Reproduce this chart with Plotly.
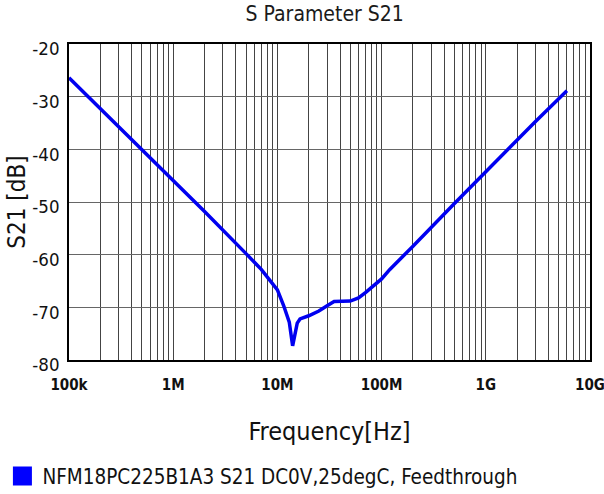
import plotly.graph_objects as go

freq_hz = [1e5, 2e5, 5e5, 1e6, 2e6, 5e6, 7e6, 1e7, 1.15e7, 1.3e7, 1.4e7, 1.55e7, 1.65e7,
           2e7, 2.5e7, 3e7, 3.5e7, 5e7, 6e7, 7e7, 1e8, 1.2e8, 1.5e8, 2e8, 5e8, 1e9, 2e9, 3e9, 6e9]
s21_db = [-26.4, -32.3, -40.0, -45.8, -51.8, -59.8, -62.8, -66.7, -69.7, -72.8, -77.3, -73.0, -72.2,
          -71.6, -70.7, -69.7, -68.9, -68.8, -68.2, -67.2, -64.6, -62.8, -60.8, -58.4, -50.3, -44.2, -38.2, -34.7, -28.9]

decades = [1e5, 1e6, 1e7, 1e8, 1e9, 1e10]
decade_labels = ["100k", "1M", "10M", "100M", "1G", "10G"]
y_ticks = [-20, -30, -40, -50, -60, -70, -80]

legend_name = "NFM18PC225B1A3 S21 DC0V,25degC, Feedthrough"

tickvals = []
ticktext = []
for i, d in enumerate(decades):
    tickvals.append(d)
    ticktext.append(decade_labels[i])
    if i < len(decades) - 1:
        for m in range(2, 10):
            tickvals.append(d * m)
            ticktext.append("")

font_c = "DejaVu Sans Condensed, DejaVu Sans, Liberation Sans"

fig = go.Figure()
fig.add_trace(go.Scatter(x=freq_hz, y=s21_db, mode="lines",
                         line=dict(color="#0000f0", width=3.5), showlegend=False))
fig.add_trace(go.Scatter(x=[None], y=[None], mode="markers", name=legend_name,
                         marker=dict(symbol="square", size=18, color="#0000ff",
                                     line=dict(color="#0000ff", width=3))))

fig.update_layout(
    template="none",
    width=604, height=494,
    paper_bgcolor="white", plot_bgcolor="white",
    margin=dict(l=69, r=14, t=44, b=134, autoexpand=False),
    title=dict(text="S Parameter S21", x=0.5376, xanchor="center", y=0.972, yanchor="middle",
               font=dict(family=font_c, size=21, color="#1a1a1a")),
    xaxis=dict(type="log", range=[5, 10.0001], tickvals=tickvals, ticktext=ticktext,
               showgrid=True, gridcolor="#444", gridwidth=1,
               showline=True, linecolor="#000", linewidth=1.6, mirror=True,
               ticks="", ticklabelstandoff=10, ticklabeloverflow="allow", automargin=False,
               tickfont=dict(family=font_c, size=15, color="#111", weight="bold"),
               title=dict(text="Frequency[Hz]", font=dict(family=font_c, size=25, color="#111"),
                          standoff=30),
               zeroline=False),
    yaxis=dict(range=[-80, -20], tickvals=y_ticks, ticktext=[str(v) for v in y_ticks],
               showgrid=True, gridcolor="#666", gridwidth=1,
               showline=True, linecolor="#000", linewidth=1.6, mirror=True,
               ticks="", ticklabelstandoff=4, ticklabelshift=5, automargin=False,
               tickfont=dict(family=font_c, size=18.5, color="#111"),
               title=dict(text="S21 [dB]", font=dict(family=font_c, size=24, color="#111"),
                          standoff=0),
               zeroline=False),
    legend=dict(orientation="h", xref="container", yref="container",
                x=0.004, xanchor="left", y=0.036, yanchor="middle",
                font=dict(family=font_c, size=20.5, color="#111"),
                itemwidth=30, tracegroupgap=0, bgcolor="rgba(0,0,0,0)"),
    showlegend=True,
)

fig.write_html("out.html", config={"displayModeBar": False},
               post_script="document.body.style.margin='0';")
